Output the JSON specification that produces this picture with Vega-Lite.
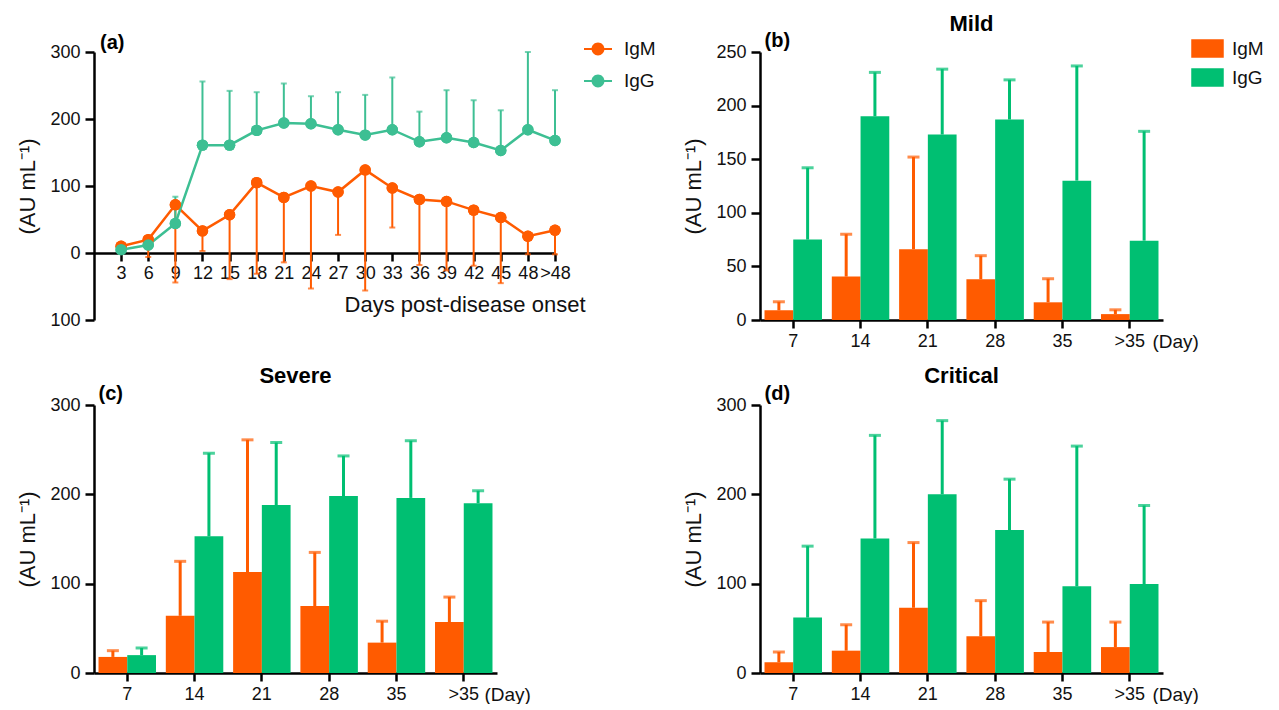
{
  "$schema": "https://vega.github.io/schema/vega-lite/v6.json",
  "background": "white",
  "padding": {"left": 16, "top": 13, "right": 0, "bottom": 0},
  "config": {
    "font": "Liberation Sans",
    "view": {"stroke": null},
    "axis": {"domainColor": "#000", "domainWidth": 2.5, "tickColor": "#000", "tickWidth": 2.5, "tickSize": 9, "labelFont": "Liberation Sans", "labelFontSize": 18, "labelColor": "#111", "labelPadding": 5, "grid": false, "titleFont": "Liberation Sans", "titleFontSize": 22, "titleFontWeight": "normal", "titleColor": "#111"},
    "legend": {"labelFont": "Liberation Sans", "labelFontSize": 18, "labelColor": "#111"},
    "title": {"font": "Liberation Sans", "fontWeight": "bold", "color": "#000"}
  },
  "datasets": {
    "a": [
      {"day": "3", "antibody": "IgM", "mean": 10, "end": 4},
      {"day": "6", "antibody": "IgM", "mean": 20, "end": -6},
      {"day": "9", "antibody": "IgM", "mean": 72, "end": -44},
      {"day": "12", "antibody": "IgM", "mean": 33, "end": 3},
      {"day": "15", "antibody": "IgM", "mean": 57, "end": -39},
      {"day": "18", "antibody": "IgM", "mean": 105, "end": -31},
      {"day": "21", "antibody": "IgM", "mean": 83, "end": -14},
      {"day": "24", "antibody": "IgM", "mean": 100, "end": -53},
      {"day": "27", "antibody": "IgM", "mean": 91, "end": 27},
      {"day": "30", "antibody": "IgM", "mean": 124, "end": -56},
      {"day": "33", "antibody": "IgM", "mean": 97, "end": 38},
      {"day": "36", "antibody": "IgM", "mean": 80, "end": -18},
      {"day": "39", "antibody": "IgM", "mean": 77, "end": -26},
      {"day": "42", "antibody": "IgM", "mean": 64, "end": -19},
      {"day": "45", "antibody": "IgM", "mean": 53, "end": -45},
      {"day": "48", "antibody": "IgM", "mean": 25, "end": -2},
      {"day": ">48", "antibody": "IgM", "mean": 34, "end": -2},
      {"day": "3", "antibody": "IgG", "mean": 5, "end": 7},
      {"day": "6", "antibody": "IgG", "mean": 12, "end": 14},
      {"day": "9", "antibody": "IgG", "mean": 44, "end": 84},
      {"day": "12", "antibody": "IgG", "mean": 161, "end": 256},
      {"day": "15", "antibody": "IgG", "mean": 161, "end": 242},
      {"day": "18", "antibody": "IgG", "mean": 183, "end": 240},
      {"day": "21", "antibody": "IgG", "mean": 194, "end": 253},
      {"day": "24", "antibody": "IgG", "mean": 193, "end": 234},
      {"day": "27", "antibody": "IgG", "mean": 184, "end": 240},
      {"day": "30", "antibody": "IgG", "mean": 176, "end": 236},
      {"day": "33", "antibody": "IgG", "mean": 184, "end": 262},
      {"day": "36", "antibody": "IgG", "mean": 166, "end": 211},
      {"day": "39", "antibody": "IgG", "mean": 172, "end": 243},
      {"day": "42", "antibody": "IgG", "mean": 165, "end": 228},
      {"day": "45", "antibody": "IgG", "mean": 153, "end": 213},
      {"day": "48", "antibody": "IgG", "mean": 184, "end": 300},
      {"day": ">48", "antibody": "IgG", "mean": 168, "end": 243}
    ],
    "b": [
      {"day": "7", "antibody": "IgM", "mean": 9, "end": 17},
      {"day": "14", "antibody": "IgM", "mean": 40.5, "end": 80},
      {"day": "21", "antibody": "IgM", "mean": 66, "end": 152},
      {"day": "28", "antibody": "IgM", "mean": 38, "end": 60},
      {"day": "35", "antibody": "IgM", "mean": 16.5, "end": 38.5},
      {"day": ">35", "antibody": "IgM", "mean": 5.5, "end": 9.5},
      {"day": "7", "antibody": "IgG", "mean": 75, "end": 142},
      {"day": "14", "antibody": "IgG", "mean": 190, "end": 231},
      {"day": "21", "antibody": "IgG", "mean": 173, "end": 234},
      {"day": "28", "antibody": "IgG", "mean": 187, "end": 224},
      {"day": "35", "antibody": "IgG", "mean": 130, "end": 237},
      {"day": ">35", "antibody": "IgG", "mean": 74, "end": 176}
    ],
    "c": [
      {"day": "7", "antibody": "IgM", "mean": 18, "end": 25},
      {"day": "14", "antibody": "IgM", "mean": 64, "end": 125},
      {"day": "21", "antibody": "IgM", "mean": 113, "end": 261},
      {"day": "28", "antibody": "IgM", "mean": 75, "end": 135},
      {"day": "35", "antibody": "IgM", "mean": 34, "end": 58},
      {"day": ">35", "antibody": "IgM", "mean": 57, "end": 85},
      {"day": "7", "antibody": "IgG", "mean": 20, "end": 28},
      {"day": "14", "antibody": "IgG", "mean": 153, "end": 246},
      {"day": "21", "antibody": "IgG", "mean": 188, "end": 258},
      {"day": "28", "antibody": "IgG", "mean": 198, "end": 243},
      {"day": "35", "antibody": "IgG", "mean": 196, "end": 260},
      {"day": ">35", "antibody": "IgG", "mean": 190, "end": 204}
    ],
    "d": [
      {"day": "7", "antibody": "IgM", "mean": 12, "end": 23.5},
      {"day": "14", "antibody": "IgM", "mean": 25, "end": 54},
      {"day": "21", "antibody": "IgM", "mean": 73, "end": 146},
      {"day": "28", "antibody": "IgM", "mean": 41, "end": 81},
      {"day": "35", "antibody": "IgM", "mean": 23.5, "end": 57},
      {"day": ">35", "antibody": "IgM", "mean": 29, "end": 57},
      {"day": "7", "antibody": "IgG", "mean": 62, "end": 142},
      {"day": "14", "antibody": "IgG", "mean": 150.5, "end": 266},
      {"day": "21", "antibody": "IgG", "mean": 200, "end": 282.5},
      {"day": "28", "antibody": "IgG", "mean": 160, "end": 217},
      {"day": "35", "antibody": "IgG", "mean": 97, "end": 254},
      {"day": ">35", "antibody": "IgG", "mean": 99.5, "end": 187.5}
    ],
    "panels": [
      {"panel": "b", "label": "(b)"},
      {"panel": "c", "label": "(c)"},
      {"panel": "d", "label": "(d)"}
    ]
  },
  "columns": 2,
  "spacing": {"row": 85, "column": 205},
  "bounds": "flush",
  "resolve": {"scale": {"color": "independent"}, "legend": {"color": "independent"}},
  "concat": [
    {
      "width": 461, "height": 268,
      "title": {"text": "(a)", "anchor": "start", "frame": "group", "dx": 6, "offset": -18, "fontSize": 20},
      "data": {"name": "a"},
      "encoding": {
        "x": {"field": "day", "type": "ordinal",
              "scale": {"type": "point", "padding": 0.5, "align": 1, "domain": ["3","6","9","12","15","18","21","24","27","30","33","36","39","42","45","48",">48"]},
              "axis": {"offset": -67, "labelAngle": 0, "labelOverlap": false, "tickSize": 8, "labelPadding": 3, "title": "Days post-disease onset", "titleX": 491, "titleY": 41, "titleAlign": "right", "titleBaseline": "top", "titleAnchor": "end", "titleFontSize": 22}},
        "y": {"field": "mean", "type": "quantitative",
              "scale": {"domain": [-100, 300], "nice": false},
              "axis": {"values": [-100, 0, 100, 200, 300], "labelExpr": "'' + abs(datum.value)", "title": "(AU mL⁻¹)", "titlePadding": 10}},
        "color": {"field": "antibody", "type": "nominal", "scale": {"domain": ["IgM", "IgG"], "range": ["#FF5B00", "#3DBF93"]},
                  "legend": {"title": null, "orient": "none", "legendX": 490, "legendY": -17, "symbolType": "M-1,-0.08H1V0.08H-1Z M-0.46,0A0.46,0.46,0,1,1,0.46,0A0.46,0.46,0,1,1,-0.46,0Z", "symbolSize": 784, "symbolOpacity": 1, "symbolStrokeWidth": 0, "rowPadding": 8, "labelOffset": 12, "labelFontSize": 19}}
      },
      "layer": [
        {"mark": {"type": "circle", "size": 130, "opacity": 1}},
        {"mark": {"type": "rule", "strokeWidth": 2}, "encoding": {"y2": {"field": "end"}}},
        {"mark": {"type": "tick", "thickness": 2, "size": 6}, "encoding": {"y": {"field": "end", "type": "quantitative"}}},
        {"mark": {"type": "line", "strokeWidth": 2.5}},
        {"mark": {"type": "circle", "size": 130, "opacity": 1}}
      ]
    },
    {
      "width": 403, "height": 268,
      "title": {"text": "Mild", "anchor": "middle", "frame": "group", "dx": 10, "offset": -5, "fontSize": 22},
      "data": {"name": "b"},
      "encoding": {
        "x": {"field": "day", "type": "ordinal",
              "scale": {"domain": ["7","14","21","28","35",">35"], "paddingInner": 0.146, "paddingOuter": 0.067},
              "axis": {"labelAngle": 0, "tickSize": 8, "labelPadding": 4, "title": "(Day)", "titleX": 392, "titleY": 12, "titleAlign": "left", "titleBaseline": "top", "titleFontSize": 19}},
        "y": {"field": "mean", "type": "quantitative",
              "scale": {"domain": [0, 250], "nice": false},
              "axis": {"values": [0, 50, 100, 150, 200, 250], "title": "(AU mL⁻¹)", "titlePadding": 10}}
      },
      "layer": [
        {"mark": {"type": "bar"},
         "encoding": {"xOffset": {"field": "antibody", "sort": ["IgM", "IgG"], "scale": {"paddingInner": 0}},
                      "color": {"field": "antibody", "type": "nominal", "scale": {"domain": ["IgM", "IgG"], "range": ["#FF5B00", "#00BF72"]},
                                "legend": {"title": null, "orient": "none", "legendX": 431, "legendY": -20, "symbolType": "M-1,-0.55H1V0.55H-1Z", "symbolSize": 961, "rowPadding": 0, "labelOffset": 8, "labelFontSize": 19}}}},
        {"mark": {"type": "rule", "strokeWidth": 3},
         "encoding": {"xOffset": {"field": "antibody", "sort": ["IgM", "IgG"], "scale": {"paddingInner": 0}},
                      "y2": {"field": "end"},
                      "color": {"field": "antibody", "type": "nominal", "scale": {"domain": ["IgM", "IgG"], "range": ["#FF5B00", "#00BF72"]}, "legend": null}}},
        {"mark": {"type": "tick", "thickness": 3, "size": 12},
         "encoding": {"xOffset": {"field": "antibody", "sort": ["IgM", "IgG"], "scale": {"paddingInner": 0}},
                      "y": {"field": "end", "type": "quantitative"},
                      "color": {"field": "antibody", "type": "nominal", "scale": {"domain": ["IgM", "IgG"], "range": ["#FF5B00", "#00BF72"]}, "legend": null}}},
        {"data": {"name": "panels"},
         "transform": [{"filter": "datum.panel == 'b'"}],
         "mark": {"type": "text", "align": "left", "baseline": "bottom", "fontWeight": "bold", "fontSize": 20, "dy": -1, "color": "#000"},
         "encoding": {"x": {"datum": "7", "type": "ordinal", "bandPosition": 0}, "y": {"value": 0}, "text": {"field": "label", "type": "nominal"}}}
      ]
    },
    {
      "width": 403, "height": 268,
      "title": {"text": "Severe", "anchor": "middle", "frame": "group", "offset": -4, "fontSize": 22},
      "data": {"name": "c"},
      "encoding": {
        "x": {"field": "day", "type": "ordinal",
              "scale": {"domain": ["7","14","21","28","35",">35"], "paddingInner": 0.146, "paddingOuter": 0.067},
              "axis": {"labelAngle": 0, "tickSize": 8, "labelPadding": 4, "title": "(Day)", "titleX": 390, "titleY": 12, "titleAlign": "left", "titleBaseline": "top", "titleFontSize": 19}},
        "y": {"field": "mean", "type": "quantitative",
              "scale": {"domain": [0, 300], "nice": false},
              "axis": {"values": [0, 100, 200, 300], "title": "(AU mL⁻¹)", "titlePadding": 10}}
      },
      "layer": [
        {"mark": {"type": "bar"},
         "encoding": {"xOffset": {"field": "antibody", "sort": ["IgM", "IgG"], "scale": {"paddingInner": 0}},
                      "color": {"field": "antibody", "type": "nominal", "scale": {"domain": ["IgM", "IgG"], "range": ["#FF5B00", "#00BF72"]}, "legend": null}}},
        {"mark": {"type": "rule", "strokeWidth": 3},
         "encoding": {"xOffset": {"field": "antibody", "sort": ["IgM", "IgG"], "scale": {"paddingInner": 0}},
                      "y2": {"field": "end"},
                      "color": {"field": "antibody", "type": "nominal", "scale": {"domain": ["IgM", "IgG"], "range": ["#FF5B00", "#00BF72"]}, "legend": null}}},
        {"mark": {"type": "tick", "thickness": 3, "size": 12},
         "encoding": {"xOffset": {"field": "antibody", "sort": ["IgM", "IgG"], "scale": {"paddingInner": 0}},
                      "y": {"field": "end", "type": "quantitative"},
                      "color": {"field": "antibody", "type": "nominal", "scale": {"domain": ["IgM", "IgG"], "range": ["#FF5B00", "#00BF72"]}, "legend": null}}},
        {"data": {"name": "panels"},
         "transform": [{"filter": "datum.panel == 'c'"}],
         "mark": {"type": "text", "align": "left", "baseline": "bottom", "fontWeight": "bold", "fontSize": 20, "dy": -1, "color": "#000"},
         "encoding": {"x": {"datum": "7", "type": "ordinal", "bandPosition": 0}, "y": {"value": 0}, "text": {"field": "label", "type": "nominal"}}}
      ]
    },
    {
      "width": 403, "height": 268,
      "title": {"text": "Critical", "anchor": "middle", "frame": "group", "offset": -4, "fontSize": 22},
      "data": {"name": "d"},
      "encoding": {
        "x": {"field": "day", "type": "ordinal",
              "scale": {"domain": ["7","14","21","28","35",">35"], "paddingInner": 0.146, "paddingOuter": 0.067},
              "axis": {"labelAngle": 0, "tickSize": 8, "labelPadding": 4, "title": "(Day)", "titleX": 392, "titleY": 12, "titleAlign": "left", "titleBaseline": "top", "titleFontSize": 19}},
        "y": {"field": "mean", "type": "quantitative",
              "scale": {"domain": [0, 300], "nice": false},
              "axis": {"values": [0, 100, 200, 300], "title": "(AU mL⁻¹)", "titlePadding": 10}}
      },
      "layer": [
        {"mark": {"type": "bar"},
         "encoding": {"xOffset": {"field": "antibody", "sort": ["IgM", "IgG"], "scale": {"paddingInner": 0}},
                      "color": {"field": "antibody", "type": "nominal", "scale": {"domain": ["IgM", "IgG"], "range": ["#FF5B00", "#00BF72"]}, "legend": null}}},
        {"mark": {"type": "rule", "strokeWidth": 3},
         "encoding": {"xOffset": {"field": "antibody", "sort": ["IgM", "IgG"], "scale": {"paddingInner": 0}},
                      "y2": {"field": "end"},
                      "color": {"field": "antibody", "type": "nominal", "scale": {"domain": ["IgM", "IgG"], "range": ["#FF5B00", "#00BF72"]}, "legend": null}}},
        {"mark": {"type": "tick", "thickness": 3, "size": 12},
         "encoding": {"xOffset": {"field": "antibody", "sort": ["IgM", "IgG"], "scale": {"paddingInner": 0}},
                      "y": {"field": "end", "type": "quantitative"},
                      "color": {"field": "antibody", "type": "nominal", "scale": {"domain": ["IgM", "IgG"], "range": ["#FF5B00", "#00BF72"]}, "legend": null}}},
        {"data": {"name": "panels"},
         "transform": [{"filter": "datum.panel == 'd'"}],
         "mark": {"type": "text", "align": "left", "baseline": "bottom", "fontWeight": "bold", "fontSize": 20, "dy": -1, "color": "#000"},
         "encoding": {"x": {"datum": "7", "type": "ordinal", "bandPosition": 0}, "y": {"value": 0}, "text": {"field": "label", "type": "nominal"}}}
      ]
    }
  ]
}
